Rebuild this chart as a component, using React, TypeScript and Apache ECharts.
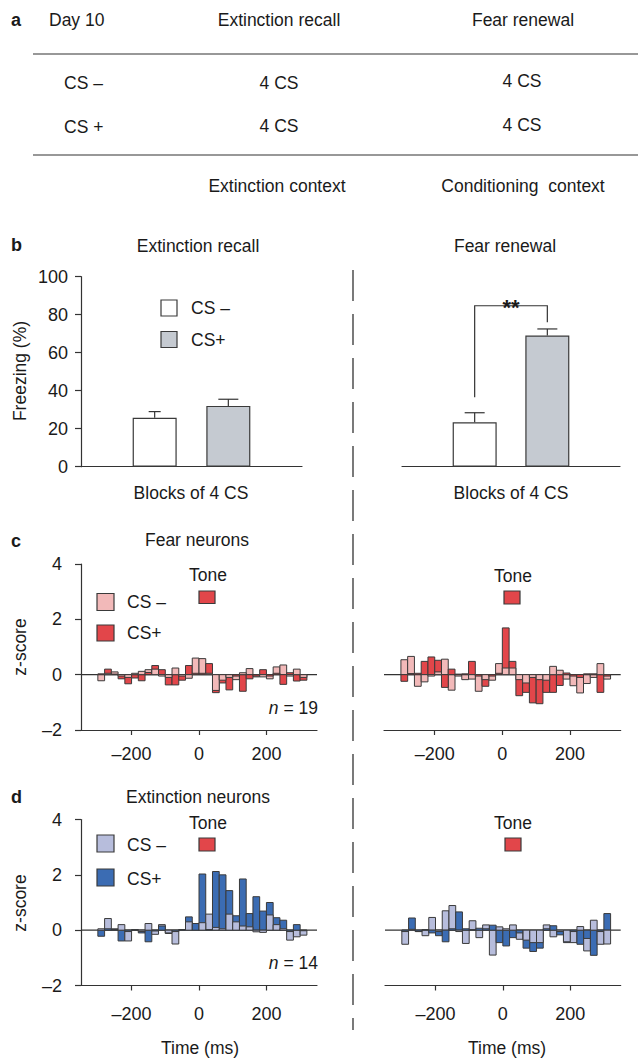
import React, { useEffect, useRef } from 'react';
import * as echarts from 'echarts';

const FONT = '"Liberation Sans", Arial, Helvetica, sans-serif';
const TEXT = '#1a1a1a';
const LINE = '#333333';
const EDGE = '#3a3a3a';

// ---- panel b: freezing (%) ----
const groupX = [1, 2]; // CS−, CS+
const recallFreezing = [25.8, 32];
const recallSem = [3.2, 3.5];
const renewalFreezing = [23.4, 69];
const renewalSem = [5, 3.5];
// significance bracket (data units): [x1, y1, x2, y2, yTop]
const renewalBracket = [1, 36.5, 2, 76, 84.7];

// ---- panels c, d: z-score histograms (20-ms bins) ----
const binStarts = [
  -300, -280, -260, -240, -220, -200, -180, -160, -140, -120, -100, -80, -60, -40, -20,
  0, 20, 40, 60, 80, 100, 120, 140, 160, 180, 200, 220, 240, 260, 280, 300,
];
const binWidth = 20;

const fearRecallMinus = [-0.22, 0.05, 0.1, -0.05, -0.1, 0.05, 0.12, 0.18, 0.2, -0.05, -0.1, 0.24, -0.05, -0.13, 0.6, 0.58, 0.05, -0.57, -0.2, -0.1, -0.18, 0.07, 0.22, -0.08, -0.08, -0.15, 0.28, 0.35, -0.05, 0.2, -0.1];
const fearRecallPlus = [0.03, 0.2, 0.02, -0.15, -0.33, -0.12, -0.22, 0.08, 0.33, 0.18, -0.37, -0.37, -0.2, 0.33, 0.05, 0.05, 0.4, -0.65, -0.3, -0.55, -0.05, -0.6, -0.15, -0.05, 0.18, -0.05, 0.05, -0.35, 0.07, -0.23, -0.2];
const fearRenewalMinus = [0.54, 0.66, -0.42, -0.26, -0.05, 0.1, 0.56, -0.56, -0.05, -0.18, -0.16, -0.6, -0.18, -0.2, 0.4, 0.24, 0.24, -0.18, -0.3, -0.1, -0.18, -0.2, 0.3, 0.16, -0.16, -0.4, -0.66, -0.32, -0.1, 0.4, -0.16];
const fearRenewalPlus = [-0.24, 0.04, 0.05, 0.48, 0.64, 0.52, -0.46, 0.2, 0.02, 0.03, 0.48, -0.05, -0.42, -0.05, 0.05, 1.69, 0.48, -0.76, -0.64, -1.02, -1.05, -0.64, -0.64, -0.39, 0.06, -0.05, -0.1, 0.03, 0.03, -0.64, -0.05];
const extRecallMinus = [0.05, 0.42, 0.05, 0.2, -0.39, 0.02, -0.05, 0.24, -0.15, 0.2, -0.1, -0.5, 0.02, 0.3, 0.24, 0.27, 0.58, 0.1, 0.05, 0.58, 0.3, 0.15, 0.12, -0.06, -0.08, 0.55, 0.2, 0.05, -0.36, -0.24, -0.18];
const extRecallPlus = [-0.22, 0.05, 0.02, -0.39, -0.05, 0.01, -0.1, -0.42, -0.03, 0.15, -0.12, -0.05, 0.02, 0.48, 0.24, 2.03, 0.02, 2.12, 2.0, 1.43, 0.52, 1.85, 0.6, 1.21, 0.69, 1.0, 0.45, 0.36, -0.05, 0.2, -0.02];
const extRenewalMinus = [-0.51, 0.03, -0.05, -0.2, 0.46, -0.05, 0.7, 0.89, -0.05, -0.48, 0.34, -0.27, 0.19, -0.9, 0.12, 0.05, 0.19, -0.33, -0.36, -0.45, -0.45, 0.19, -0.24, -0.05, -0.42, -0.45, 0.13, -0.75, 0.36, -0.51, -0.5];
const extRenewalPlus = [-0.05, 0.44, -0.05, 0.02, -0.1, -0.2, -0.42, 0.05, 0.66, 0.05, 0.02, 0.07, 0.05, 0.18, -0.45, -0.57, -0.27, -0.1, -0.65, -0.77, -0.65, 0.05, 0.16, -0.17, -0.45, -0.05, -0.51, -0.3, -0.91, -0.05, 0.6];

const timeTicks = [-200, 0, 200];
const zTicksMin = -2;
const zTicksMax = 4;

const PINK = '#f2b9b9';
const RED = '#e2464a';
const LAV = '#b7bddc';
const BLUE = '#3b6cb3';
const GREY = '#c5cad1';

const minusFmt = (v: number) => (v < 0 ? '\u2013' + Math.abs(v) : String(v));

function layers(minus: number[], plus: number[]) {
  const back: number[][] = [];
  const front: number[][] = [];
  binStarts.forEach((s, i) => {
    const a = [s, s + binWidth, minus[i], 0];
    const b = [s, s + binWidth, plus[i], 1];
    if (Math.abs(minus[i]) >= Math.abs(plus[i])) {
      back.push(a);
      front.push(b);
    } else {
      back.push(b);
      front.push(a);
    }
  });
  return { back, front };
}

const histRender = (colors: string[]) => (_p: any, api: any) => {
  const a = api.coord([api.value(0), 0]);
  const b = api.coord([api.value(1), api.value(2)]);
  return {
    type: 'rect',
    shape: { x: a[0], y: Math.min(a[1], b[1]), width: b[0] - a[0], height: Math.abs(b[1] - a[1]) },
    style: { fill: colors[api.value(3)], stroke: EDGE, lineWidth: 1 },
  };
};

const errRender = (p: any, api: any) => {
  const x = api.value(0);
  const m = api.value(1);
  const e = api.value(2);
  const base = api.coord([x, m]);
  const top = api.coord([x, m + e]);
  const half = p.seriesIndex === 1 && p.dataIndex === 0 ? 6 : 10;
  return {
    type: 'group',
    children: [
      { type: 'line', shape: { x1: base[0], y1: base[1], x2: top[0], y2: top[1] }, style: { stroke: LINE, lineWidth: 1.2 } },
      { type: 'line', shape: { x1: top[0] - half, y1: top[1], x2: top[0] + half, y2: top[1] }, style: { stroke: LINE, lineWidth: 1.2 } },
    ],
  };
};

const bracketRender = (_p: any, api: any) => {
  const p1 = api.coord([api.value(0), api.value(1)]);
  const p1t = api.coord([api.value(0), api.value(4)]);
  const p2t = api.coord([api.value(2), api.value(4)]);
  const p2 = api.coord([api.value(2), api.value(3)]);
  return {
    type: 'group',
    children: [
      { type: 'polyline', shape: { points: [p1, p1t, p2t, p2] }, style: { stroke: LINE, lineWidth: 1.2, fill: 'none' } },
      {
        type: 'text',
        style: {
          text: '**', x: (p1t[0] + p2t[0]) / 2, y: p1t[1] + 2,
          align: 'center', textAlign: 'center', verticalAlign: 'middle', textVerticalAlign: 'middle',
          fontSize: 22, fontWeight: 'bold', fontFamily: FONT, fill: TEXT,
        },
      },
    ],
  };
};

function txt(text: string, x: number, y: number, align = 'left', extra: any = {}) {
  return {
    type: 'text',
    x,
    y,
    rotation: extra.rotation || 0,
    style: {
      text,
      x: 0,
      y: 0,
      align,
      textAlign: align,
      verticalAlign: 'middle',
      textVerticalAlign: 'middle',
      fontSize: extra.fontSize || 17.5,
      fontWeight: extra.fontWeight || 'normal',
      fontFamily: FONT,
      fill: TEXT,
      rich: extra.rich,
    },
  };
}
function box(x: number, y: number, w: number, h: number, fill: string) {
  return { type: 'rect', shape: { x, y, width: w, height: h }, style: { fill, stroke: EDGE, lineWidth: 1.2 } };
}
function hline(x1: number, x2: number, y: number) {
  return { type: 'line', shape: { x1, y1: y, x2, y2: y }, style: { stroke: LINE, lineWidth: 1.2 } };
}

export default function App() {
  const ref = useRef<HTMLDivElement>(null);
  useEffect(() => {
    document.body.style.margin = '0';
    const chart = echarts.init(ref.current!, undefined, { renderer: 'svg' });

    const axisLineStyle = { color: LINE, width: 1.2 };
    const grids = [
      { left: 81, top: 276.7, width: 221, height: 190 },
      { left: 402, top: 276.7, width: 218, height: 190 },
      { left: 81, top: 564, width: 236, height: 166 },
      { left: 384, top: 564, width: 236.7, height: 166 },
      { left: 81, top: 819.5, width: 236, height: 166 },
      { left: 385, top: 819.5, width: 235.7, height: 166 },
    ];

    const bX = (g: number) => ({
      gridIndex: g, type: 'value', min: 0, max: 3,
      axisLine: { show: true, onZero: false, lineStyle: axisLineStyle },
      axisTick: { show: false }, axisLabel: { show: false }, splitLine: { show: false },
    });
    const tX = (g: number, margin: number) => ({
      gridIndex: g, type: 'value', min: -350, max: 350,
      axisLine: { show: true, onZero: false, lineStyle: axisLineStyle },
      axisTick: { show: true, length: 5, customValues: timeTicks, lineStyle: axisLineStyle },
      axisLabel: { customValues: timeTicks, formatter: minusFmt, margin, fontSize: 18, fontFamily: FONT, color: TEXT },
      splitLine: { show: false },
    });
    const zY = (g: number, show: boolean) => ({
      gridIndex: g, type: 'value', min: zTicksMin, max: zTicksMax, interval: 2, show,
      axisLine: { show: true, onZero: false, lineStyle: axisLineStyle },
      axisTick: { show: true, length: 6, lineStyle: axisLineStyle },
      axisLabel: { formatter: minusFmt, margin: 19, fontSize: 18, fontFamily: FONT, color: TEXT },
      splitLine: { show: false },
    });

    const hist = (g: number, minus: number[], plus: number[], colors: string[]) => {
      const { back, front } = layers(minus, plus);
      return [
        {
          type: 'line', xAxisIndex: g, yAxisIndex: g, data: [[-350, 0], [350, 0]], showSymbol: false, symbol: 'none',
          lineStyle: { color: LINE, width: 1.2 }, z: 1, silent: true,
        },
        { type: 'custom', xAxisIndex: g, yAxisIndex: g, renderItem: histRender(colors), data: back, encode: { x: [0, 1], y: 2 }, z: 2, silent: true },
        { type: 'custom', xAxisIndex: g, yAxisIndex: g, renderItem: histRender(colors), data: front, encode: { x: [0, 1], y: 2 }, z: 3, silent: true },
      ];
    };

    const freezeBars = (g: number, vals: number[], sem: number[]) => [
      {
        type: 'bar', xAxisIndex: g, yAxisIndex: g, barWidth: 44,
        data: vals.map((v, i) => ({ value: [groupX[i], v], itemStyle: { color: i === 0 ? '#ffffff' : GREY } })),
        itemStyle: { borderColor: EDGE, borderWidth: 1.2 }, z: 2, silent: true,
      },
      {
        type: 'custom', xAxisIndex: g, yAxisIndex: g, renderItem: errRender,
        data: vals.map((v, i) => [groupX[i], v, sem[i]]), encode: { x: 0, y: 1 }, z: 3, silent: true,
      },
    ];

    const graphics: any[] = [
      // panel a
      txt('a', 11, 20, 'left', { fontWeight: 'bold', fontSize: 18 }),
      txt('Day 10', 49, 20),
      txt('Extinction recall', 279, 20, 'center'),
      txt('Fear renewal', 523, 20, 'center'),
      hline(33, 638, 54),
      txt('CS \u2013', 64, 83),
      txt('4 CS', 279, 83, 'center'),
      txt('4 CS', 522, 81, 'center'),
      txt('CS +', 64, 127),
      txt('4 CS', 279, 126, 'center'),
      txt('4 CS', 522, 125, 'center'),
      hline(33, 638, 155),
      txt('Extinction context', 277, 186, 'center'),
      txt('Conditioning  context', 523, 186, 'center'),
      // panel b
      txt('b', 11, 245, 'left', { fontWeight: 'bold', fontSize: 18 }),
      txt('Extinction recall', 198, 246, 'center'),
      txt('Fear renewal', 505, 246, 'center'),
      txt('Freezing (%)', 20, 371, 'center', { rotation: Math.PI / 2 }),
      box(161, 300, 16, 16, '#ffffff'),
      txt('CS \u2013', 191, 308),
      box(161, 331.5, 16, 16, GREY),
      txt('CS+', 191, 339.5),
      txt('Blocks of 4 CS', 191, 493, 'center'),
      txt('Blocks of 4 CS', 511, 493, 'center'),
      // panel c
      txt('c', 11, 541, 'left', { fontWeight: 'bold', fontSize: 18 }),
      txt('Fear neurons', 197, 540, 'center'),
      txt('z-score', 20, 647, 'center', { rotation: Math.PI / 2 }),
      box(97, 593.5, 17, 17, PINK),
      txt('CS \u2013', 127, 602),
      box(97, 625, 17, 16, RED),
      txt('CS+', 127, 633),
      txt('Tone', 208, 575, 'center'),
      box(199, 591, 16, 12.5, RED),
      txt('Tone', 513, 576, 'center'),
      box(504, 591, 16, 13, RED),
      txt('{i|n} = 19', 318, 708, 'right', { rich: { i: { fontStyle: 'italic', fontSize: 17.5, fontFamily: FONT, fill: TEXT } } }),
      // panel d
      txt('d', 11, 797, 'left', { fontWeight: 'bold', fontSize: 18 }),
      txt('Extinction neurons', 198, 797, 'center'),
      txt('z-score', 20, 903, 'center', { rotation: Math.PI / 2 }),
      box(97, 835, 17, 17, LAV),
      txt('CS \u2013', 127, 845),
      box(97, 869, 17, 17, BLUE),
      txt('CS+', 127, 879),
      txt('Tone', 208, 823, 'center'),
      box(199, 838, 16, 13, RED),
      txt('Tone', 513, 823, 'center'),
      box(505, 838, 16, 13, RED),
      txt('{i|n} = 14', 318, 963, 'right', { rich: { i: { fontStyle: 'italic', fontSize: 17.5, fontFamily: FONT, fill: TEXT } } }),
      txt('Time (ms)', 200, 1048, 'center'),
      txt('Time (ms)', 507, 1048, 'center'),
      // divider
      { type: 'line', shape: { x1: 353, y1: 270, x2: 353, y2: 1030 }, style: { stroke: LINE, lineWidth: 1.3, lineDash: [31, 13] } },
    ];

    chart.setOption({
      animation: false,
      backgroundColor: '#ffffff',
      textStyle: { fontFamily: FONT },
      grid: grids,
      xAxis: [bX(0), bX(1), tX(2, 15), tX(3, 15), tX(4, 19), tX(5, 19)],
      yAxis: [
        {
          gridIndex: 0, type: 'value', min: 0, max: 100, interval: 20,
          axisLine: { show: true, onZero: false, lineStyle: axisLineStyle },
          axisTick: { show: true, length: 6, lineStyle: axisLineStyle },
          axisLabel: { margin: 13, fontSize: 18, fontFamily: FONT, color: TEXT },
          splitLine: { show: false },
        },
        { gridIndex: 1, type: 'value', min: 0, max: 100, show: false, splitLine: { show: false } },
        zY(2, true),
        zY(3, false),
        zY(4, true),
        zY(5, false),
      ],
      series: [
        ...freezeBars(0, recallFreezing, recallSem),
        ...freezeBars(1, renewalFreezing, renewalSem),
        {
          type: 'custom', xAxisIndex: 1, yAxisIndex: 1, renderItem: bracketRender,
          data: [renewalBracket], encode: { x: [0, 2], y: [1, 3, 4] }, z: 4, silent: true,
        },
        ...hist(2, fearRecallMinus, fearRecallPlus, [PINK, RED]),
        ...hist(3, fearRenewalMinus, fearRenewalPlus, [PINK, RED]),
        ...hist(4, extRecallMinus, extRecallPlus, [LAV, BLUE]),
        ...hist(5, extRenewalMinus, extRenewalPlus, [LAV, BLUE]),
      ],
      graphic: graphics,
    });
    return () => chart.dispose();
  }, []);
  return <div ref={ref} style={{ position: 'absolute', left: 0, top: 0, width: 638, height: 1061 }} />;
}
